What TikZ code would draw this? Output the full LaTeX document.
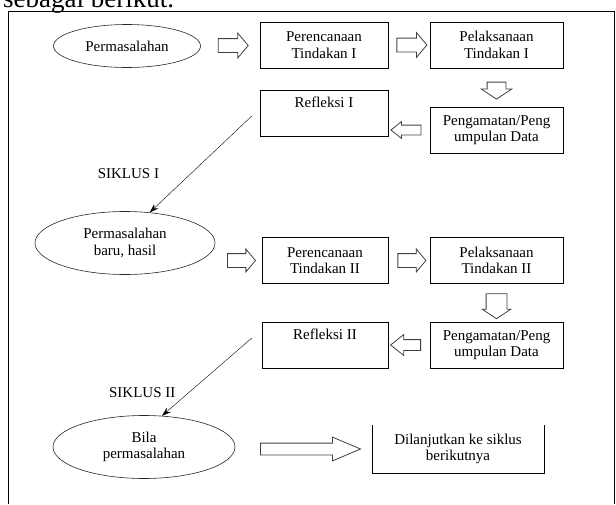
\documentclass[tikz,border=0pt]{standalone}
\usepackage{fontspec}
\setmainfont{Liberation Serif}
\usetikzlibrary{shapes.geometric,shapes.arrows,arrows.meta,calc}

\begin{document}
\begin{tikzpicture}[x=1pt,y=-1pt,font=\fontsize{15}{16.5}\selectfont,
	kotak/.style={draw,rectangle,minimum height=46pt,align=center,inner sep=1pt},
	lonjong/.style={draw=black!85,line width=.6pt,ellipse,align=center,inner sep=0pt},
	panah/.style={draw=black!75,line width=.8pt,single arrow,inner xsep=0pt,inner ysep=6.5pt,minimum height=30pt,
		minimum width=24pt,single arrow head extend=5.5pt,single arrow tip angle=100},
	bawah/.style={panah,shape border rotate=270,inner ysep=0pt,single arrow tip angle=113},
	garis/.style={-{Stealth[length=9pt,width=6pt]}}]
	\useasboundingbox (0,0) rectangle (616,504);
	\node[anchor=base west,font=\fontsize{27}{30}\selectfont,inner sep=0pt] (judul) at (3,7) {sebagai berikut.};
	\draw (8,504) -- (8,11) -- (614,11) -- (614,504);

	\node[lonjong,minimum width=147pt,minimum height=43pt] (masalah_1) at (127,46) {Permasalahan};
	\node[kotak,minimum width=128pt] (rencana_1) at (324,45) {Perencanaan\\Tindakan I};
	\node[kotak,minimum width=133pt] (laksana_1) at (496.5,45) {Pelaksanaan\\Tindakan I};
	\node[kotak,minimum width=128pt] (refleksi_1) at (324,113) {Refleksi I\\ \strut};
	\node[kotak,minimum width=133pt] (amati_1) at (496.5,130) {Pengamatan/Peng\\umpulan Data};

	\node[lonjong,minimum width=180pt,minimum height=63pt] (masalah_2) at (125,243) {Permasalahan\\baru, hasil};
	\node[kotak,minimum width=126pt] (rencana_2) at (325,260.5) {Perencanaan\\Tindakan II};
	\node[kotak,minimum width=133pt] (laksana_2) at (496.5,260.5) {Pelaksanaan\\Tindakan II};
	\node[kotak,minimum width=126pt] (refleksi_2) at (325,345) {Refleksi II\\ \strut};
	\node[kotak,minimum width=133pt] (amati_2) at (496.5,345) {Pengamatan/Peng\\umpulan Data};

	\node[lonjong,minimum width=182pt,minimum height=63pt] (bila) at (144,447) {Bila\\permasalahan};
	\node[align=center,minimum width=172pt,minimum height=48pt] (lanjut) at (458,449) {Dilanjutkan ke siklus\\berikutnya};
	\draw (lanjut.north west) -- (lanjut.south west) -- (lanjut.south east) -- (lanjut.north east);

	\node[panah] at ($(masalah_1.east)!.5!(rencana_1.west)$) {};
	\node[panah] at ($(rencana_1.east)!.5!(laksana_1.west)$) {};
	\node[bawah,minimum height=17pt,minimum width=30pt,inner xsep=9pt,single arrow head extend=6pt] at ($(laksana_1.south)!.5!(amati_1.north)$) {};
	\node[panah,shape border rotate=180,minimum width=16pt,inner ysep=4.5pt,single arrow head extend=3.5pt,single arrow tip angle=77] at ($(refleksi_1.east |- amati_1.west)!.5!(amati_1.west)$) {};
	\node[panah,minimum height=28pt,minimum width=22pt,single arrow head extend=4.5pt] at ($(masalah_2.east |- rencana_2.west)!.5!(rencana_2.west)$) {};
	\node[panah,minimum height=28pt,minimum width=22pt,single arrow head extend=4.5pt] at ($(rencana_2.east)!.5!(laksana_2.west)$) {};
	\node[bawah,minimum height=25pt,minimum width=28pt,inner xsep=10pt,single arrow head extend=4pt] at ($(laksana_2.south)!.5!(amati_2.north)$) {};
	\node[panah,shape border rotate=180,minimum width=20pt,inner ysep=5pt,single arrow head extend=5pt,single arrow tip angle=77] at ($(refleksi_2.east)!.5!(amati_2.west)$) {};
	\node[panah,minimum height=100pt,minimum width=23pt,inner ysep=5.5pt,single arrow head extend=6pt,single arrow tip angle=46] at ($(bila.east |- lanjut.west)!.5!(lanjut.west)$) {};

	\coordinate (awal_1) at ([xshift=-8pt,yshift=-3pt]refleksi_1.west);
	\coordinate (awal_2) at ([xshift=-10pt,yshift=7pt]refleksi_2.west);
	\draw[garis] (awal_1) -- node[pos=.6,left=28pt] {SIKLUS I} (masalah_2.51);
	\draw[garis] (awal_2) -- node[pos=.7,left=10pt] {SIKLUS II} (bila.60);
\end{tikzpicture}
\end{document}
